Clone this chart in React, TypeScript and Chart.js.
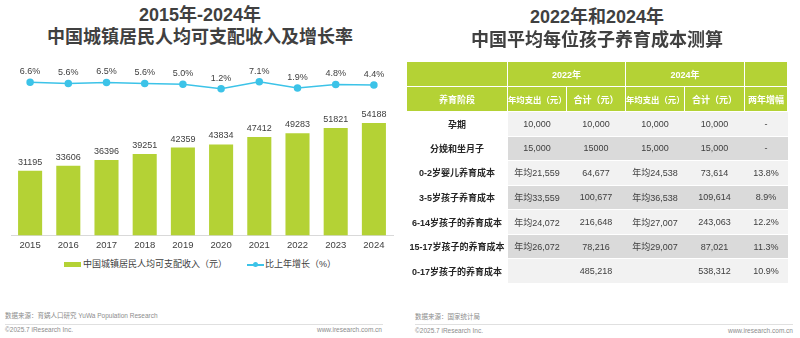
import React, { useEffect, useRef } from "react";
import { Chart, registerables } from "chart.js";

Chart.register(...registerables);

const years = ["2015", "2016", "2017", "2018", "2019", "2020", "2021", "2022", "2023", "2024"];
const income = [31195, 33606, 36396, 39251, 42359, 43834, 47412, 49283, 51821, 54188];
const growth = [6.6, 5.6, 6.5, 5.6, 5.0, 1.2, 7.1, 1.9, 4.8, 4.4];

const stages = ["孕期", "分娩和坐月子", "0-2岁婴儿养育成本", "3-5岁孩子养育成本", "6-14岁孩子的养育成本", "15-17岁孩子的养育成本", "0-17岁孩子的养育成本"];
const avg2022 = ["10,000", "15,000", "年均21,559", "年均33,559", "年均24,072", "年均26,072", ""];
const total2022 = ["10,000", "15000", "64,677", "100,677", "216,648", "78,216", "485,218"];
const avg2024 = ["10,000", "15,000", "年均24,538", "年均36,538", "年均27,007", "年均29,007", ""];
const total2024 = ["10,000", "15,000", "73,614", "109,614", "243,063", "87,021", "538,312"];
const twoYearGrowth = ["-", "-", "13.8%", "8.9%", "12.2%", "11.3%", "10.9%"];

const FONT = '"Liberation Sans", "Noto Sans CJK SC", sans-serif';
const GREEN = "#b4d235";
const CYAN = "#3cc3e8";
const TEXT = "#404040";

const labelPlugin = {
  id: "valueLabels",
  afterDatasetsDraw(chart: any) {
    const ctx = chart.ctx;
    ctx.save();
    ctx.font = `9px ${FONT}`;
    ctx.fillStyle = TEXT;
    ctx.textAlign = "center";
    ctx.textBaseline = "bottom";
    chart.data.datasets.forEach((ds: any, i: number) => {
      const meta = chart.getDatasetMeta(i);
      meta.data.forEach((el: any, j: number) => {
        const v = ds.data[j];
        if (ds.type === "line") {
          ctx.fillText(v.toFixed(1) + "%", el.x, el.y - 6);
        } else {
          ctx.fillText(String(v), el.x, el.y - 4);
        }
      });
    });
    ctx.restore();
  },
};

function IncomeChart() {
  const ref = useRef<HTMLCanvasElement | null>(null);
  useEffect(() => {
    if (!ref.current) return;
    const chart = new Chart(ref.current, {
      type: "bar",
      data: {
        labels: years,
        datasets: [
          {
            type: "line",
            label: "比上年增长（%）",
            data: growth,
            yAxisID: "y1",
            borderColor: CYAN,
            backgroundColor: CYAN,
            pointBackgroundColor: CYAN,
            pointBorderColor: CYAN,
            pointRadius: 3,
            borderWidth: 1.5,
            order: 1,
          } as any,
          {
            type: "bar",
            label: "中国城镇居民人均可支配收入（元）",
            data: income,
            yAxisID: "y",
            backgroundColor: GREEN,
            barPercentage: 0.63,
            categoryPercentage: 1,
            order: 2,
          } as any,
        ],
      },
      options: {
        responsive: false,
        animation: false,
        layout: { padding: { left: 11, right: 7, top: 10, bottom: 1 } },
        plugins: { legend: { display: false }, tooltip: { enabled: false } },
        scales: {
          x: {
            grid: { display: false, drawTicks: false },
            border: { display: true, color: "#d9d9d9", width: 1 },
            ticks: { color: TEXT, font: { size: 9.5, family: FONT }, padding: 4 },
          },
          y: { display: false, min: 0, max: 84500 },
          y1: { display: false, min: -120, max: 25 },
        },
      },
      plugins: [labelPlugin],
    });
    return () => chart.destroy();
  }, []);
  return <canvas ref={ref} width={400} height={206} style={{ position: "absolute", left: 0, top: 50 }} />;
}

const abs = (s: React.CSSProperties): React.CSSProperties => ({ position: "absolute", ...s });

export default function App() {
  const titleStyle: React.CSSProperties = {
    position: "absolute",
    width: 400,
    textAlign: "center",
    fontSize: 18,
    fontWeight: 700,
    color: TEXT,
    lineHeight: "22px",
    fontFamily: FONT,
    whiteSpace: "nowrap",
  };
  const footSmall: React.CSSProperties = { position: "absolute", fontSize: 6.5, color: "#8c8c8c", fontFamily: FONT, whiteSpace: "nowrap", lineHeight: "8px" };
  const hdr: React.CSSProperties = {
    background: GREEN,
    color: "#fff",
    fontWeight: 700,
    fontSize: 9,
    textAlign: "center",
    border: "1px solid #fff",
    padding: 0,
    whiteSpace: "nowrap",
    overflow: "visible",
  };
  const rowH = 24.57;
  return (
    <div style={{ position: "absolute", left: 0, top: 0, width: 800, height: 338, background: "#fff", fontFamily: FONT, overflow: "hidden" }}>
      <div style={{ ...titleStyle, left: 0, top: 4 }}>2015年-2024年</div>
      <div style={{ ...titleStyle, left: 0, top: 26 }}>中国城镇居民人均可支配收入及增长率</div>
      <IncomeChart />
      {/* legend */}
      <div style={abs({ left: 64, top: 262, width: 17, height: 5, background: GREEN })} />
      <div style={abs({ left: 83, top: 259, fontSize: 9, color: TEXT, lineHeight: "11px", whiteSpace: "nowrap" })}>中国城镇居民人均可支配收入（元）</div>
      <div style={abs({ left: 247, top: 264, width: 17, height: 1.5, background: CYAN })} />
      <div style={abs({ left: 253, top: 262, width: 5, height: 5, borderRadius: 3, background: CYAN })} />
      <div style={abs({ left: 265, top: 259, fontSize: 9, color: TEXT, lineHeight: "11px", whiteSpace: "nowrap" })}>比上年增长（%）</div>
      {/* left footer */}
      <div style={{ ...footSmall, left: 5, top: 312 }}>数据来源：育娲人口研究 YuWa Population Research</div>
      <div style={abs({ left: 5, top: 324, width: 378, height: 1, background: "#e0e0e0" })} />
      <div style={{ ...footSmall, left: 5, top: 326 }}>©2025.7 iResearch Inc.</div>
      <div style={{ ...footSmall, left: 300, width: 82, top: 326, textAlign: "right" }}>www.iresearch.com.cn</div>

      {/* right title */}
      <div style={{ ...titleStyle, left: 397, top: 6 }}>2022年和2024年</div>
      <div style={{ ...titleStyle, left: 397, top: 29 }}>中国平均每位孩子养育成本测算</div>

      {/* table */}
      <table
        style={{
          position: "absolute",
          left: 406,
          top: 61,
          width: 381,
          borderCollapse: "collapse",
          tableLayout: "fixed",
          fontFamily: FONT,
        }}
      >
        <colgroup>
          <col style={{ width: 101 }} />
          <col style={{ width: 59 }} />
          <col style={{ width: 59 }} />
          <col style={{ width: 59 }} />
          <col style={{ width: 60 }} />
          <col style={{ width: 43 }} />
        </colgroup>
        <tbody>
          <tr style={{ height: 25 }}>
            <td style={hdr}></td>
            <td style={hdr} colSpan={2}>2022年</td>
            <td style={hdr} colSpan={2}>2024年</td>
            <td style={hdr}></td>
          </tr>
          <tr style={{ height: 25 }}>
            <td style={hdr}>养育阶段</td>
            <td style={{ ...hdr, fontSize: 8.4 }}>年均支出（元）</td>
            <td style={hdr}>合计（元）</td>
            <td style={{ ...hdr, fontSize: 8.4 }}>年均支出（元）</td>
            <td style={hdr}>合计（元）</td>
            <td style={hdr}>两年增幅</td>
          </tr>
          {stages.map((s, i) => {
            const bg = i % 2 === 0 ? "#f2f2f2" : "#dadada";
            const cell: React.CSSProperties = {
              background: bg,
              fontSize: 9,
              color: TEXT,
              textAlign: "center",
              padding: 0,
              whiteSpace: "nowrap",
              borderTop: "1px solid #fff",
            };
            return (
              <tr key={s} style={{ height: rowH }}>
                <td style={{ background: "#fff", fontSize: 9, fontWeight: 700, color: "#262626", textAlign: "center", padding: 0, whiteSpace: "nowrap" }}>{s}</td>
                <td style={cell}>{avg2022[i]}</td>
                <td style={cell}>{total2022[i]}</td>
                <td style={cell}>{avg2024[i]}</td>
                <td style={cell}>{total2024[i]}</td>
                <td style={cell}>{twoYearGrowth[i]}</td>
              </tr>
            );
          })}
        </tbody>
      </table>

      {/* right footer */}
      <div style={{ ...footSmall, left: 415, top: 313 }}>数据来源：国家统计局</div>
      <div style={abs({ left: 415, top: 324, width: 378, height: 1, background: "#e0e0e0" })} />
      <div style={{ ...footSmall, left: 415, top: 327 }}>©2025.7 iResearch Inc.</div>
      <div style={{ ...footSmall, left: 700, width: 93, top: 327, textAlign: "right" }}>www.iresearch.com.cn</div>
    </div>
  );
}
